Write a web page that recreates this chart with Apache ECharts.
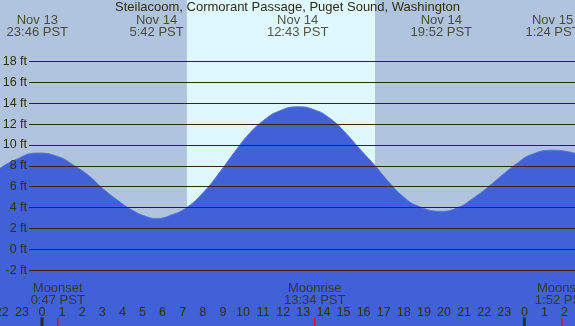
<!DOCTYPE html>
<html><head><meta charset="utf-8">
<script src="https://cdn.jsdelivr.net/npm/echarts@6/dist/echarts.min.js"></script>
<style>html,body{margin:0;padding:0;background:#b0c4de}#c{width:575px;height:326px}</style>
</head><body><div id="c"></div>
<script>
// Hours relative to Nov 14 00:00 PST
const tideTimes = [-2.09, -1.36, -0.23, 0.83, 1.56, 2.29, 3.02, 3.75, 4.48, 5.21, 5.7, 6.3, 7.21, 8.13, 8.86, 9.59, 10.32, 11.04, 11.78, 12.72, 13.6, 14.33, 15.06, 15.79, 16.56, 17.25, 17.98, 18.71, 19.87, 20.72, 21.44, 22.17, 22.9, 23.63, 24.36, 25.4, 26.0, 26.52];
const tideHeights = [7.75, 8.55, 9.22, 8.86, 8.07, 7.11, 5.83, 4.72, 3.76, 3.12, 2.96, 3.19, 4.02, 5.67, 7.43, 9.34, 11.1, 12.37, 13.23, 13.65, 13.33, 12.54, 11.25, 9.66, 8.04, 6.47, 5.03, 4.14, 3.64, 4.02, 4.88, 5.93, 7.11, 8.23, 9.09, 9.49, 9.41, 9.19];

const extremeTimes = [-0.233, 5.7, 12.717, 19.867, 25.4];
const extremeLabels = ["Nov 13\n23:46 PST", "Nov 14\n5:42 PST", "Nov 14\n12:43 PST", "Nov 14\n19:52 PST", "Nov 15\n1:24 PST"];

const moonTimes = [0.783, 13.567, 25.867];
const moonLabels = ["Moonset\n0:47 PST", "Moonrise\n13:34 PST", "Moonset\n1:52 PST"];

const sunrise = 7.21, sunset = 16.57;
const midnights = [0, 24];
const title = "Steilacoom, Cormorant Passage, Puget Sound, Washington";

const FONT = "Liberation Sans";
const TXT = "#2e2e0c";
const X0 = -2.09, X1 = 26.52;

const chart = echarts.init(document.getElementById('c'), null, {renderer: 'canvas'});
const rowTop = 26.5, rowMoon = 294.5, rowTick = 322;
const gridBase = {outerBoundsMode: 'none', containLabel: false};
chart.setOption({
  animation: false,
  backgroundColor: '#b0c4de',
  title: {text: title, left: 'center', top: 0, padding: [1, 0, 0, 0],
    textStyle: {fontFamily: FONT, fontSize: 13, fontWeight: 'normal', color: TXT}},
  grid: [
    Object.assign({left: 0, right: 0, top: 0, bottom: 0}, gridBase),
    Object.assign({left: 29, right: 0, top: 61.5, bottom: 55.8}, gridBase),
    Object.assign({left: 1.8, right: 10.4, top: 0, bottom: 0}, gridBase)
  ],
  xAxis: [
    {gridIndex: 0, type: 'value', min: X0, max: X1, show: false},
    {gridIndex: 1, type: 'value', min: 0, max: 1, show: false},
    {gridIndex: 2, type: 'value', min: -2, max: 26, interval: 1, position: 'bottom',
      axisLine: {show: false}, splitLine: {show: false},
      axisTick: {show: true, inside: true, length: 8, lineStyle: {color: '#222200', width: 1}},
      axisLabel: {inside: true, margin: 7, fontFamily: FONT, fontSize: 12.5, color: TXT,
        showMinLabel: true, showMaxLabel: true, hideOverlap: false,
        formatter: v => String(((v % 24) + 24) % 24)}, z: 6}
  ],
  yAxis: [
    {gridIndex: 0, type: 'value', min: -7.35, max: 23.89, show: false},
    {gridIndex: 1, type: 'value', min: -2, max: 18, interval: 2, z: 5,
      axisLine: {show: false}, axisTick: {show: false},
      axisLabel: {margin: 2, fontFamily: FONT, fontSize: 12.5, color: TXT, formatter: '{value} ft'},
      splitLine: {show: true, lineStyle: {color: '#2a2a0e', width: 1}}},
    {gridIndex: 2, type: 'value', min: 0, max: 326, inverse: true, show: false}
  ],
  series: [
    {type: 'line', xAxisIndex: 0, yAxisIndex: 0, data: [], z: 1, silent: true,
      markArea: {silent: true, itemStyle: {color: '#dff7ff'},
        data: [[{xAxis: sunrise}, {xAxis: sunset}]]}},
    {type: 'line', xAxisIndex: 0, yAxisIndex: 0, z: 2, smooth: 0.5, symbol: 'none',
      data: tideTimes.map((t, i) => [t, tideHeights[i]]),
      lineStyle: {color: '#5675dc', width: 1},
      areaStyle: {color: '#4161d7', origin: 'start', opacity: 1}},
    {type: 'scatter', xAxisIndex: 2, yAxisIndex: 2, z: 7, symbolSize: 0,
      data: extremeTimes.map(t => [t, rowTop]),
      label: {show: true, position: 'inside', fontFamily: FONT, fontSize: 13, lineHeight: 12, color: TXT,
        formatter: p => extremeLabels[p.dataIndex]}},
    {type: 'scatter', xAxisIndex: 2, yAxisIndex: 2, z: 7, symbolSize: 0,
      data: moonTimes.map(t => [t, rowMoon]),
      label: {show: true, position: 'inside', fontFamily: FONT, fontSize: 13, lineHeight: 12, color: TXT,
        formatter: p => moonLabels[p.dataIndex]}},
    {type: 'scatter', xAxisIndex: 2, yAxisIndex: 2, z: 7, symbol: 'rect', symbolSize: [1.6, 9],
      itemStyle: {color: '#ff0000'}, data: moonTimes.map(t => [t, rowTick])},
    {type: 'scatter', xAxisIndex: 2, yAxisIndex: 2, z: 7, symbol: 'rect', symbolSize: [3, 9],
      itemStyle: {color: '#222200'}, data: midnights.map(t => [t, rowTick])}
  ]
});
</script></body></html>
